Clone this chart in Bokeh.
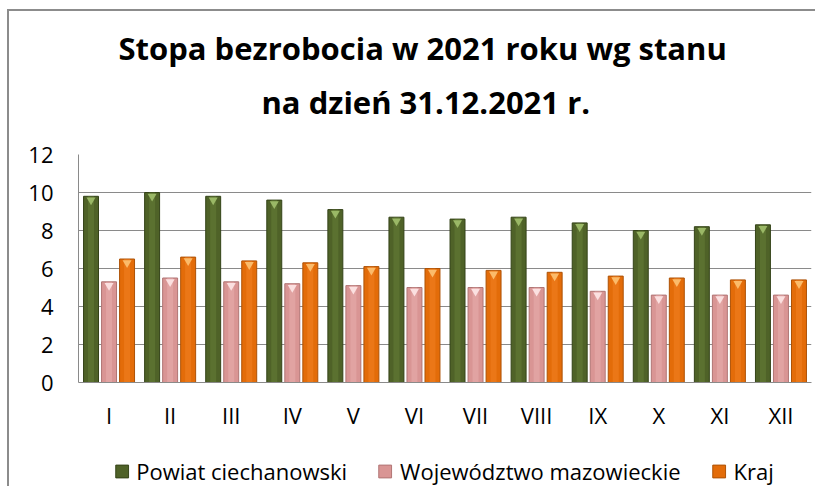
from bokeh.plotting import figure
from bokeh.layouts import column
from bokeh.models import (FactorRange, Range1d, Legend, LegendItem, Title,
                          ColumnDataSource, FixedTicker)
from bokeh.transform import dodge
from bokeh.embed import file_html
from bokeh.resources import INLINE

months = ["I", "II", "III", "IV", "V", "VI", "VII", "VIII", "IX", "X", "XI", "XII"]
powiat = [9.8, 10.0, 9.8, 9.6, 9.1, 8.7, 8.6, 8.7, 8.4, 8.0, 8.2, 8.3]
mazowieckie = [5.3, 5.5, 5.3, 5.2, 5.1, 5.0, 5.0, 5.0, 4.8, 4.6, 4.6, 4.6]
kraj = [6.5, 6.6, 6.4, 6.3, 6.1, 6.0, 5.9, 5.8, 5.6, 5.5, 5.4, 5.4]
series_names = ["Powiat ciechanowski", "Województwo mazowieckie", "Kraj"]
y_ticks = [0, 2, 4, 6, 8, 10, 12]
title_lines = ["Stopa bezrobocia w 2021 roku wg stanu", "na dzień 31.12.2021 r."]

FONT = "Open Sans"
fills = ["#4F6228", "#D99594", "#E36C09"]
edges = ["#344318", "#b07574", "#ad5206"]
highs = ["#6a843a", "#eab4b3", "#f5852a"]
tops = ["#9ab866", "#fbe0e0", "#fbbb6a"]
offsets = [-0.295, 0.0, 0.295]
bar_w = 0.245

src = ColumnDataSource(dict(
    m=months, s0=powiat, s1=mazowieckie, s2=kraj,
    t0=[v - 0.2 for v in powiat],
    t1=[v - 0.2 for v in mazowieckie],
    t2=[v - 0.2 for v in kraj],
))

p = figure(x_range=FactorRange(*months, range_padding=0), y_range=Range1d(0, 12),
           frame_width=731, frame_height=226, output_backend="svg", toolbar_location=None,
           min_border_left=69, min_border_right=6, min_border_top=143,
           min_border_bottom=47)
p.styles = {"margin-left": "7px", "margin-top": "9px",
            "border-left": "2px solid #8c8c8c", "border-top": "2px solid #8c8c8c"}
p.title.text = title_lines[0]
p.title.text_font = FONT
p.title.text_font_size = "31px"
p.title.text_font_style = "bold"
p.title.text_color = "#000000"
p.title.align = "left"
p.title.offset = 40
# spacer between the title block and the plot frame
p.add_layout(Title(text=" ", text_font=FONT, text_font_size="11px"), "above")
p.add_layout(Title(text=title_lines[1], text_font=FONT, text_font_size="31px",
                   text_font_style="bold", text_color="#000000", align="left",
                   offset=183), "above")

for i, key in enumerate(["s0", "s1", "s2"]):
    xs = dodge("m", offsets[i], range=p.x_range)
    p.vbar(x=xs, top=key, width=bar_w, source=src,
           fill_color=fills[i], line_color=edges[i], line_width=1)
    p.vbar(x=xs, top=key, width=bar_w * 0.4, source=src,
           fill_color=highs[i], fill_alpha=0.45, line_color=None)
    p.scatter(x=xs, y="t%d" % i, source=src, marker="inverted_triangle", size=9,
              fill_color=tops[i], line_color=None)

p.outline_line_color = None
p.xgrid.grid_line_color = None
p.ygrid.grid_line_color = "#8a8a8a"
p.ygrid.grid_line_width = 1
p.yaxis.ticker = FixedTicker(ticks=y_ticks)
for ax in (p.xaxis, p.yaxis):
    ax.axis_line_color = "#8a8a8a"
    ax.major_tick_line_color = None
    ax.minor_tick_line_color = None
    ax.major_tick_out = 0
    ax.major_tick_in = 0
    ax.major_label_text_font = FONT
    ax.major_label_text_font_size = "22px"
    ax.major_label_text_color = "#000000"
p.xaxis.major_label_standoff = 17
p.yaxis.major_label_standoff = 25

# legend strip below the chart (its bars lie outside its visible y range)
leg = figure(width=806, height=56, x_range=FactorRange(*months, range_padding=0),
             y_range=Range1d(100, 101), x_axis_type=None, y_axis_type=None,
             output_backend="svg", toolbar_location=None,
             min_border_left=36, min_border_right=0, min_border_top=0,
             min_border_bottom=0)
leg.styles = {"margin-left": "7px", "border-left": "2px solid #8c8c8c"}
leg.outline_line_color = None
items = []
for i, key in enumerate(["s0", "s1", "s2"]):
    r = leg.vbar(x=dodge("m", offsets[i], range=leg.x_range), top=key, width=bar_w,
                 source=src, fill_color=fills[i], line_color=edges[i])
    items.append(LegendItem(label=series_names[i], renderers=[r]))
legend = Legend(items=items, orientation="horizontal", location="bottom_center",
                label_text_font=FONT, label_text_font_size="22px",
                label_text_color="#000000",
                glyph_width=16, glyph_height=16, spacing=30, label_standoff=7,
                padding=4, margin=0, border_line_color=None,
                background_fill_alpha=0)
leg.add_layout(legend, "center")

layout = column(p, leg, spacing=0)
open("out.html", "w").write(file_html(layout, INLINE))
